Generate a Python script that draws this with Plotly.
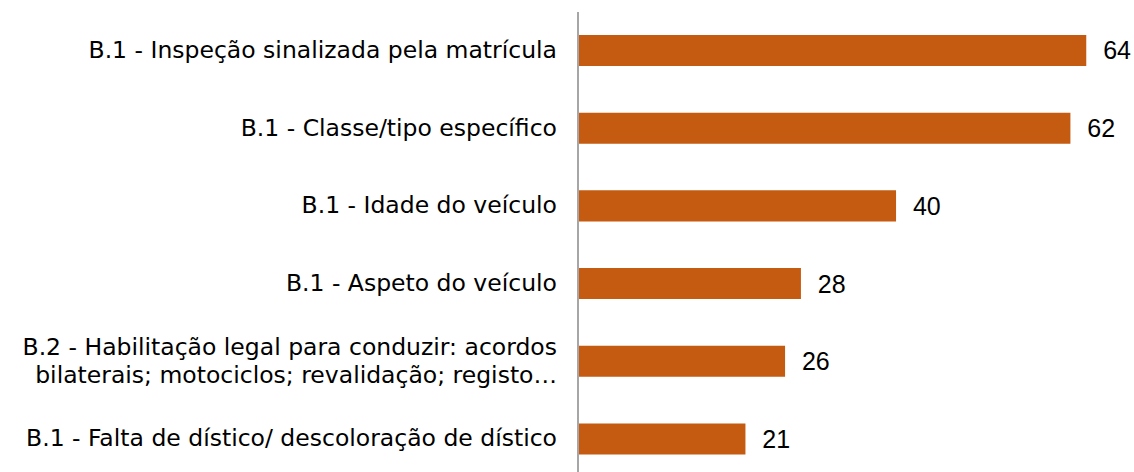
import plotly.graph_objects as go

categories = [
    "B.1 - Falta de dístico/ descoloração de dístico",
    "B.2 - Habilitação legal para conduzir: acordos<br>bilaterais; motociclos; revalidação; registo…",
    "B.1 - Aspeto do veículo",
    "B.1 - Idade do veículo",
    "B.1 - Classe/tipo específico",
    "B.1 - Inspeção sinalizada pela matrícula",
]
values = [21, 26, 28, 40, 62, 64]

BAR_COLOR = "#C55A11"
LABEL_FONT = "DejaVu Sans, Liberation Sans, Arial, sans-serif"
VALUE_FONT = "Liberation Sans, Arial, sans-serif"
LABEL_PX = 23.5
BASE_PX = 21.3


def styled(label):
    # each line rendered at LABEL_PX while the base tick font sets the line spacing
    return "<br>".join(
        f"<span style='font-size:{LABEL_PX}px'>{line}</span>" for line in label.split("<br>")
    )


tick_text = [styled(c) for c in categories]

fig = go.Figure(
    go.Bar(
        x=values,
        y=categories,
        orientation="h",
        marker=dict(color=BAR_COLOR, line=dict(width=0)),
        width=0.4,
        texttemplate="  %{x}",
        textposition="outside",
        textfont=dict(family=VALUE_FONT, size=25, color="#000000"),
        cliponaxis=False,
        hoverinfo="x+y",
    )
)

fig.update_layout(
    width=1134,
    height=472,
    margin=dict(l=579, r=20, t=12, b=0),
    paper_bgcolor="white",
    plot_bgcolor="white",
    showlegend=False,
    font=dict(family=LABEL_FONT, size=BASE_PX, color="#000000"),
    xaxis=dict(
        range=[0, 67.5],
        visible=False,
        showgrid=False,
        zeroline=False,
    ),
    yaxis=dict(
        type="category",
        categoryorder="array",
        categoryarray=categories,
        tickmode="array",
        tickvals=categories,
        ticktext=tick_text,
        range=[-0.425, 5.495],
        showline=True,
        linecolor="#A6A6A6",
        linewidth=1.5,
        showgrid=False,
        zeroline=False,
        ticks="",
        ticklabelstandoff=16,
        tickfont=dict(family=LABEL_FONT, size=BASE_PX, color="#000000"),
    ),
)

fig.write_html(
    "out.html",
    config={"displayModeBar": False},
    post_script="document.body.style.margin='0';",
)
